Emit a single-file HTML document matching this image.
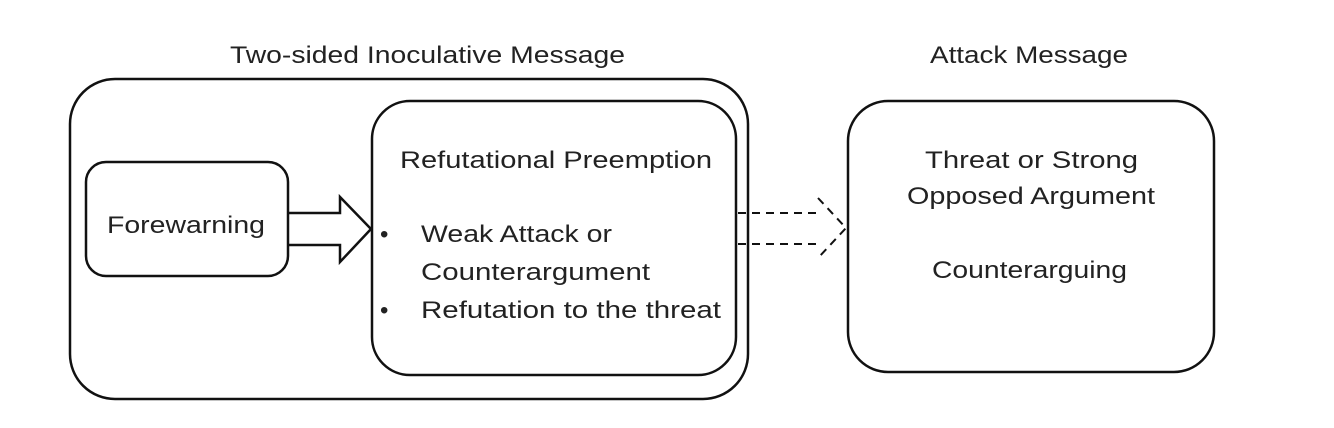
<!DOCTYPE html>
<html><head><meta charset="utf-8"><style>
body{margin:0;background:#fff}
svg text{font-family:"Liberation Sans",sans-serif;font-size:24px;fill:#222}
</style></head><body>
<svg width="1334" height="423" viewBox="0 0 1334 423" xmlns="http://www.w3.org/2000/svg">
<g fill="none" stroke="#111" stroke-width="2.5">
<rect x="70" y="79" width="678" height="320" rx="45"/>
<rect x="372" y="101" width="364" height="274" rx="38"/>
<rect x="86" y="162" width="202" height="114" rx="20"/>
<path d="M288 213 H340 V197 L371 229 L340 262 V245 H288"/>
<rect x="848" y="101" width="366" height="271" rx="40"/>
<g stroke-dasharray="8,6" stroke-width="2">
<path d="M738 213 H818"/><path d="M738 244 H818"/>
<path d="M818 198 L846 228 L818 258"/>
</g>
</g>
<text x="230" y="63" textLength="395" lengthAdjust="spacingAndGlyphs">Two-sided Inoculative Message</text>
<text x="930" y="63" textLength="198" lengthAdjust="spacingAndGlyphs">Attack Message</text>
<text x="107" y="233" textLength="158" lengthAdjust="spacingAndGlyphs">Forewarning</text>
<text x="400" y="168" textLength="312" lengthAdjust="spacingAndGlyphs">Refutational Preemption</text>
<text x="380" y="242">•</text>
<text x="421" y="242" textLength="191" lengthAdjust="spacingAndGlyphs">Weak Attack or</text>
<text x="421" y="280" textLength="229" lengthAdjust="spacingAndGlyphs">Counterargument</text>
<text x="380" y="318">•</text>
<text x="421" y="318" textLength="300" lengthAdjust="spacingAndGlyphs">Refutation to the threat</text>
<text x="925" y="168" textLength="213" lengthAdjust="spacingAndGlyphs">Threat  or Strong</text>
<text x="907" y="204" textLength="248" lengthAdjust="spacingAndGlyphs">Opposed Argument</text>
<text x="932" y="278" textLength="195" lengthAdjust="spacingAndGlyphs">Counterarguing</text>
</svg>
</body></html>
